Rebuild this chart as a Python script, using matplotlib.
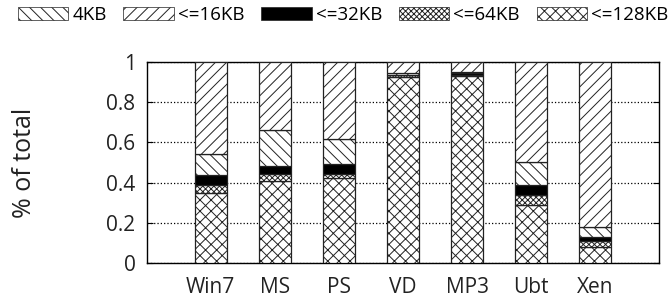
import matplotlib.pyplot as plt
import matplotlib
from matplotlib.patches import Patch
import numpy as np

matplotlib.rcParams['font.family'] = ['Open Sans', 'DejaVu Sans']
matplotlib.rcParams['hatch.linewidth'] = 0.7

# data (fraction of total, bottom to top segment order: 128, 64, 32, 4KB, 16KB)
systems = ['Win7', 'MS', 'PS', 'VD', 'MP3', 'Ubt', 'Xen']
kb128 = [0.35, 0.41, 0.42, 0.925, 0.93, 0.29, 0.08]
kb64 = [0.04, 0.03, 0.02, 0.008, 0.005, 0.05, 0.03]
kb32 = [0.045, 0.04, 0.05, 0.004, 0.008, 0.05, 0.02]
kb4 = [0.105, 0.18, 0.125, 0.008, 0.005, 0.11, 0.05]
kb16 = [1 - a - b - c - d for a, b, c, d in zip(kb128, kb64, kb32, kb4)]

labels = ['4KB', '<=16KB', '<=32KB', '<=64KB', '<=128KB']
hatches = {'4KB': '\\\\\\', '<=16KB': '///', '<=32KB': '', '<=64KB': 'xxxxxx', '<=128KB': 'xxx'}
faces = {'4KB': 'white', '<=16KB': 'white', '<=32KB': 'black', '<=64KB': 'white', '<=128KB': 'white'}
series = [('<=128KB', kb128), ('<=64KB', kb64), ('<=32KB', kb32), ('4KB', kb4), ('<=16KB', kb16)]

fig = plt.figure(figsize=(6.7, 3.05), dpi=100)
ax = fig.add_axes([0.219, 0.138, 0.765, 0.659])

x = np.arange(len(systems))
bottom = np.zeros(len(systems))
for name, vals in series:
    ax.bar(x, vals, 0.5, bottom=bottom, color=faces[name], edgecolor='#222222',
           hatch=hatches[name], linewidth=0.9, zorder=3)
    bottom += np.array(vals)

ax.set_xlim(-1, 7)
ax.set_ylim(0, 1)
ax.set_xticks(x)
ax.set_xticklabels(systems, fontsize=15, color='#222222')
ax.set_yticks([0, 0.2, 0.4, 0.6, 0.8, 1])
ax.set_yticklabels(['0', '0.2', '0.4', '0.6', '0.8', '1'], fontsize=15, color='#222222')
ax.tick_params(axis='x', length=0, pad=10)
ax.tick_params(axis='y', direction='in', length=4, right=True, pad=8)
ax.set_ylabel('% of total', fontsize=18, color='#222222', labelpad=50)
ax.grid(axis='y', linestyle=':', color='black', linewidth=0.9, zorder=0)
for s in ax.spines.values():
    s.set_linewidth(1.0)

handles = [Patch(facecolor=faces[l], edgecolor='#222222', hatch=hatches[l], linewidth=0.5, label=l)
           for l in labels]
fig.legend(handles=handles, loc='center', bbox_to_anchor=(0.512, 0.95), ncol=5,
           frameon=False, fontsize=13.5, handlelength=2.7, handleheight=0.65,
           handletextpad=0.2, columnspacing=0.9, borderpad=0.1)

plt.savefig('out.png', dpi=100)
plt.close()
